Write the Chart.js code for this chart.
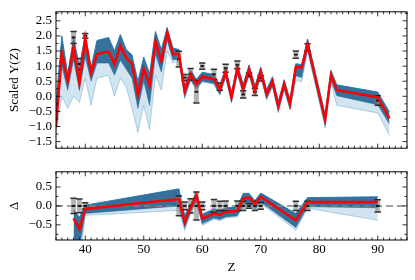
<!DOCTYPE html>
<html><head><meta charset="utf-8">
<script src="https://cdn.jsdelivr.net/npm/chart.js@4.4.1/dist/chart.umd.min.js"></script>
<style>
html,body{margin:0;padding:0;background:#fff;}
#wrap{position:relative;width:415px;height:280px;overflow:hidden;}
#c1{position:absolute;left:0;top:0;}
#c2{position:absolute;left:0;top:160px;}
</style></head><body>
<div id="wrap"><canvas id="c1" width="415" height="160"></canvas><canvas id="c2" width="415" height="120"></canvas></div>
<script>
// ---- data ----
const modelZ    = [35,36,37,38,39,40,41,42,44,45,46,47,48,49,50,51,52,53,54,55,56,57,58,59,60,62,63,64,65,66,67,68,69,70,71,72,73,74,75,76,77,78,81,82,83,90,92];
const modelMean = [-1.0,1.43,0.52,1.62,0.44,1.93,0.77,1.40,1.48,1.07,1.67,1.28,1.07,0.04,0.92,0.37,1.82,1.17,2.10,1.40,1.40,0.17,0.72,0.40,0.65,0.57,0.22,0.80,-0.03,0.92,0.24,0.89,0.20,0.82,0.07,0.50,-0.33,0.40,-0.26,0.98,0.95,1.73,-0.78,0.70,0.20,-0.03,-0.73];
const ensHi     = [-0.2,2.0,0.75,1.95,1.0,2.02,0.95,1.85,1.95,1.5,2.05,1.55,1.37,0.5,1.3,0.75,2.15,1.55,2.28,1.6,1.55,0.36,0.88,0.56,0.80,0.72,0.37,0.95,0.12,1.07,0.40,1.04,0.35,0.97,0.22,0.65,-0.17,0.55,-0.10,1.08,1.05,1.9,-0.6,0.86,0.38,0.14,-0.52];
const ensLo     = [-1.05,1.0,0.2,1.2,0.2,1.3,0.5,1.1,1.1,0.7,1.2,0.9,0.6,-0.4,0.5,-0.3,1.4,0.8,1.85,1.2,1.25,-0.03,0.55,0.24,0.50,0.42,0.06,0.64,-0.19,0.76,0.08,0.73,0.04,0.66,-0.09,0.34,-0.50,0.24,-0.42,0.68,0.62,1.55,-0.95,0.54,0.02,-0.28,-0.92];
const ensLowest = [-1.2,0.0,-0.4,0.0,-0.2,0.6,-0.3,0.6,0.7,0.0,0.6,0.3,-0.4,-1.2,-0.3,-1.1,0.7,0.2,1.5,1.1,1.2,-0.08,0.52,0.22,0.47,0.40,0.04,0.62,-0.22,0.74,0.06,0.70,0.02,0.64,-0.12,0.32,-0.55,0.22,-0.45,0.52,0.48,1.5,-1.05,0.5,-0.3,-0.55,-1.3];

const expZ   = [38,39,40,56,57,58,59,60,62,63,64,66,67,68,69,70,76,78,90];
const expY   = [1.95,1.07,2.0,1.23,0.62,0.73,0.15,1.0,0.73,0.32,0.93,1.04,0.06,0.71,0.15,0.6,1.38,1.62,-0.14];
const expErr = [0.2,0.18,0.08,0.26,0.1,0.19,0.37,0.1,0.17,0.12,0.13,0.13,0.12,0.06,0.12,0.09,0.12,0.12,0.16];
const expDeltaCenter = [0,0,0,0,0,0,0,0,0,0,0,0,0,0,0,0,0,0,0];

const deltaMean   = [-0.33,-0.62,-0.08,0.18,-0.43,-0.05,0.27,-0.34,-0.2,-0.23,-0.16,-0.13,0.19,0.22,0.05,0.24,-0.38,0.1,0.1];
const deltaHi     = [-0.1,-0.3,0.02,0.45,-0.25,0.05,0.38,-0.22,-0.08,-0.12,-0.05,-0.02,0.33,0.33,0.14,0.34,-0.2,0.22,0.24];
const deltaLo     = [-0.9,-1.1,-0.2,0.0,-0.58,-0.17,0.13,-0.47,-0.32,-0.36,-0.29,-0.26,0.04,0.08,-0.07,0.1,-0.57,-0.02,-0.05];
const deltaLowest = [-1.2,-1.5,-0.25,-0.12,-0.65,-0.2,0.1,-0.52,-0.35,-0.39,-0.32,-0.29,0.01,0.05,-0.1,0.07,-0.64,-0.06,-0.38];

const xTicks      = [40,50,60,70,80,90];
const yTicksTop   = [-1.5,-1.0,-0.5,0.0,0.5,1.0,1.5,2.0,2.5];
const yTicksBot   = [-0.5,0.0,0.5];
const zeroLineZ   = [35,95];
const zeroLineY   = [0,0];

// ---- helpers ----
const pts = (xs, ys) => xs.map((x, i) => ({x: x, y: ys[i]}));
const fmtY = v => (v < 0 ? '\u2212' : '') + Math.abs(v).toFixed(1);

Chart.defaults.font.family = "'Liberation Serif', 'DejaVu Serif', serif";
Chart.defaults.font.size = 13;
Chart.defaults.color = '#000';

const framePlugin = {
  id: 'frame',
  afterDraw(chart, args, o) {
    const {ctx, chartArea: a, scales: {x, y}} = chart;
    ctx.save();
    ctx.strokeStyle = '#000';
    ctx.lineWidth = 1;
    ctx.strokeRect(a.left, a.top, a.right - a.left, a.bottom - a.top);
    ctx.lineWidth = 0.8;
    const tick = (px, horiz, len) => {
      ctx.beginPath();
      if (horiz) {
        ctx.moveTo(px, a.bottom); ctx.lineTo(px, a.bottom - len);
        ctx.moveTo(px, a.top); ctx.lineTo(px, a.top + len);
      } else {
        ctx.moveTo(a.left, px); ctx.lineTo(a.left + len, px);
        ctx.moveTo(a.right, px); ctx.lineTo(a.right - len, px);
      }
      ctx.stroke();
    };
    for (let v = Math.ceil(x.min); v <= x.max; v += 1) {
      tick(x.getPixelForValue(v), true, (v % 10 === 0) ? 4.5 : 2.5);
    }
    const ys = Math.ceil(y.min / 0.25) * 0.25;
    for (let v = ys; v <= y.max + 1e-9; v += 0.25) {
      const major = Math.abs(v / 0.5 - Math.round(v / 0.5)) < 1e-6;
      tick(y.getPixelForValue(v), false, major ? 4.5 : 2.5);
    }
    ctx.restore();
  }
};

const errPlugin = {
  id: 'err',
  beforeDatasetDraw(chart, args, o) {
    if (args.index !== o.beforeIndex) return;
    const {ctx, chartArea: a, scales: {x, y}} = chart;
    ctx.save();
    ctx.beginPath();
    ctx.rect(a.left, a.top, a.right - a.left, a.bottom - a.top);
    ctx.clip();
    for (let i = 0; i < expZ.length; i++) {
      const px = x.getPixelForValue(expZ[i]);
      const c = o.center[i];
      const t = y.getPixelForValue(c + expErr[i]);
      const b = y.getPixelForValue(c - expErr[i]);
      ctx.fillStyle = 'rgba(128,128,128,0.6)';
      ctx.fillRect(px - 2.5, t, 5, b - t);
      ctx.strokeStyle = 'rgba(20,20,20,0.85)';
      ctx.lineWidth = 1.5;
      ctx.beginPath();
      ctx.moveTo(px - 3.2, t); ctx.lineTo(px + 3.2, t);
      ctx.moveTo(px - 3.2, b); ctx.lineTo(px + 3.2, b);
      ctx.stroke();
      const cy = y.getPixelForValue(c);
      ctx.fillStyle = 'rgba(0,0,0,0.85)';
      ctx.fillRect(px - 1.8, cy - 1, 3.6, 2);
    }
    ctx.restore();
  }
};

const lightFill = 'rgba(31,119,180,0.2)';
const darkFill  = 'rgba(27,92,140,0.88)';

// order: lower number is drawn on top
function bandSets(xs, lowest, lo, hi, mean) {
  return [
    {data: pts(xs, lowest), borderColor: 'rgba(31,119,180,0.3)', borderWidth: 1, fill: false, order: 4},
    {data: pts(xs, lo), borderColor: 'rgba(31,119,180,0.55)', borderWidth: 1, fill: {target: '-1'}, backgroundColor: lightFill, order: 3},
    {data: pts(xs, hi), borderColor: 'rgba(31,119,180,0.9)', borderWidth: 1, fill: {target: '-1'}, backgroundColor: darkFill, order: 2},
    {data: pts(xs, mean), borderColor: '#ff0000', borderWidth: 2.5, fill: false, order: 0}
  ];
}

const common = (ymin, ymax, yt, ytitle) => ({
  responsive: false,
  animation: false,
  devicePixelRatio: 1,
  elements: {point: {radius: 0}, line: {tension: 0}},
  plugins: {legend: {display: false}, tooltip: {enabled: false}},
  scales: {
    y: {
      type: 'linear', min: ymin, max: ymax,
      afterBuildTicks: s => { s.ticks = yt.map(v => ({value: v})); },
      afterFit: s => { s.width = 56; },
      grid: {display: false, drawTicks: false},
      border: {display: false},
      ticks: {callback: v => fmtY(v), padding: 4, autoSkip: false},
      title: {display: true, text: ytitle, padding: {top: 7, bottom: 0}, font: {size: 13}}
    }
  }
});

// top panel
const o1 = common(-1.72, 2.8, yTicksTop, 'Scaled Y(Z)');
o1.layout = {padding: {top: 7, right: 8, bottom: 2, left: 0}};
o1.scales.x = {type: 'linear', min: 35, max: 95, display: false};
o1.plugins.err = {beforeIndex: 3, center: expY};
new Chart(document.getElementById('c1'), {
  type: 'line',
  data: {datasets: bandSets(modelZ, ensLowest, ensLo, ensHi, modelMean)},
  options: o1,
  plugins: [errPlugin, framePlugin]
});

// bottom panel
const o2 = common(-0.9, 0.9, yTicksBot, '\u0394');
o2.layout = {padding: {top: 3, right: 8, bottom: 0, left: 0}};
o2.scales.x = {
  type: 'linear', min: 35, max: 95,
  afterBuildTicks: s => { s.ticks = xTicks.map(v => ({value: v})); },
  afterFit: s => { s.height = 40; },
  grid: {display: false, drawTicks: false},
  border: {display: false},
  ticks: {padding: 2, autoSkip: false, maxRotation: 0},
  title: {display: true, text: 'Z', padding: {top: 0, bottom: 5}, font: {size: 13}}
};
const ds2 = bandSets(expZ, deltaLowest, deltaLo, deltaHi, deltaMean);
ds2.splice(3, 0, {data: pts(zeroLineZ, zeroLineY), borderColor: 'rgba(128,128,128,0.75)', borderWidth: 2, borderDash: [7, 4], fill: false, order: 1});
o2.plugins.err = {beforeIndex: 4, center: expDeltaCenter};
new Chart(document.getElementById('c2'), {
  type: 'line',
  data: {datasets: ds2},
  options: o2,
  plugins: [errPlugin, framePlugin]
});
</script>
</body></html>
